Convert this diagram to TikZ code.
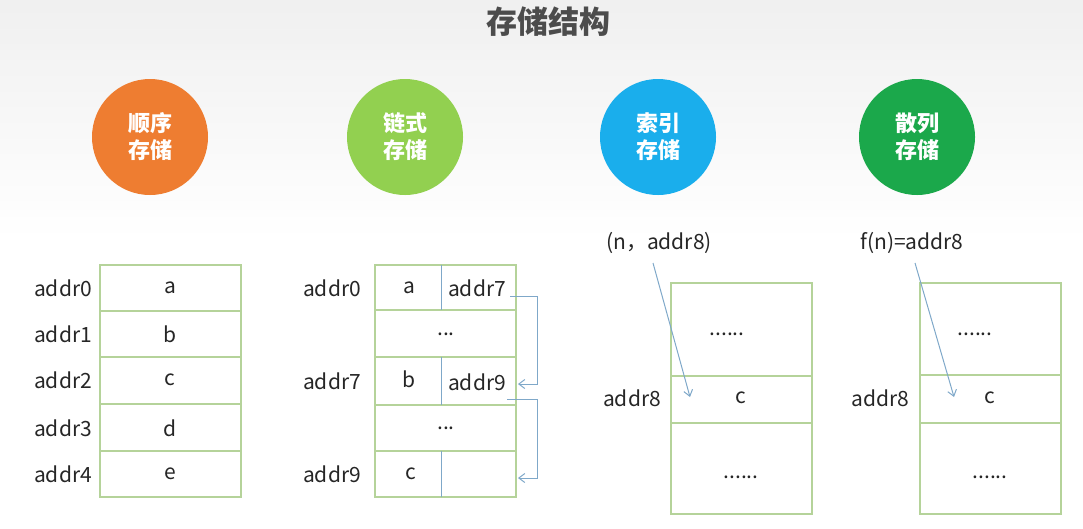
\documentclass[tikz,border=0pt]{standalone}
\usepackage{fontspec}
\setmainfont{Noto Sans CJK SC}
\usetikzlibrary{arrows.meta}
\definecolor{cellline}{HTML}{B5D39A}
\definecolor{ptrline}{HTML}{7FA8C9}
\definecolor{seqc}{HTML}{EE7D31}
\definecolor{linkc}{HTML}{92D050}
\definecolor{idxc}{HTML}{1AAEEC}
\definecolor{hashc}{HTML}{1BA84B}

\begin{document}
\begin{tikzpicture}[x=1pt,y=-1pt]
    \tikzstyle{kind}=[circle,minimum size=116pt,inner sep=0pt,text=white,font=\fontsize{22}{27}\selectfont\bfseries,align=center]
    \tikzstyle{cell}=[draw=cellline,line width=1.2pt]
    \tikzstyle{addr}=[font=\fontsize{21}{24}\selectfont,text=black!85]
    \tikzstyle{val}=[font=\fontsize{21}{24}\selectfont,text=black!85]
    \tikzstyle{ptr}=[draw=ptrline,line width=1pt,-{Straight Barb[length=6pt,width=9pt]}]

    \useasboundingbox (0,0) rectangle (1083,528);
    \shade[top color=black!6,bottom color=white] (0,0) rectangle (1083,240);

    % Title
    \node[font=\fontsize{31}{36}\selectfont\bfseries,text=black!70] (title) at (548,22) {存储结构};

    % The four kinds of storage
    \node[kind,fill=seqc]  (seq)  at (150,137) {顺序\\存储};
    \node[kind,fill=linkc] (link) at (405,137) {链式\\存储};
    \node[kind,fill=idxc]  (idx)  at (658,137) {索引\\存储};
    \node[kind,fill=hashc] (hash) at (917,137) {散列\\存储};

    % Sequential storage
    \draw[cell] (100,265) rectangle (241,497);
    \foreach \y in {311,357,404,451}
        \draw[cell] (100,\y) -- (241,\y);
    \foreach \name/\y [count=\i from 0] in {a/288,b/334,c/380,d/428,e/474} {
        \node[addr] (sa-\i) at (63,\y) {addr\i};
        \node[val]  (sv-\i) at (170,\y) {\name};
    }

    % Linked storage
    \draw[cell] (375,265) rectangle (516,497);
    \foreach \y in {310,357,405,451}
        \draw[cell] (375,\y) -- (516,\y);
    \foreach \y/\z in {265/310,357/405,451/497}
        \draw[draw=ptrline,line width=1pt] (441,\y) -- (441,\z);
    \node[addr] (la-0) at (332,288) {addr0};
    \node[addr] (la-7) at (332,381) {addr7};
    \node[addr] (la-9) at (332,474) {addr9};
    \node[val] (lv-a) at (409,288) {a};
    \node[val] (lp-a) at (477,288) {addr7};
    \node[val] (ld-1) at (446,334) {...};
    \node[val] (lv-b) at (409,379) {b};
    \node[val] (lp-b) at (477,382) {addr9};
    \node[val] (ld-2) at (446,428) {...};
    \node[val] (lv-c) at (411,474) {c};
    \coordinate (lq-c) at (518,478);
    \coordinate (lq-b) at (518,384);
    \draw[ptr] (510,296) -- (537,296) -- (537,384) -- (lq-b);
    \draw[ptr] (507,399) -- (537,399) -- (537,478) -- (lq-c);

    % Index storage
    \draw[cell] (671,283) rectangle (812,514);
    \foreach \y in {376,423}
        \draw[cell] (671,\y) -- (812,\y);
    \node[addr] (ik) at (659,243) {(n，addr8)};
    \node[addr] (ia) at (632,398) {addr8};
    \node[val] (id-1) at (727,334) {......};
    \node[val] (iv) at (741,398) {c};
    \node[val] (id-2) at (741,477) {......};
    \coordinate (it) at (690,397);
    \draw[ptr] (653,263) -- (it);

    % Hash storage
    \draw[cell] (920,283) rectangle (1061,514);
    \foreach \y in {375,423}
        \draw[cell] (920,\y) -- (1061,\y);
    \node[addr] (hk) at (912,243) {f(n)=addr8};
    \node[addr] (ha) at (880,398) {addr8};
    \node[val] (hd-1) at (975,334) {......};
    \node[val] (hv) at (990,398) {c};
    \node[val] (hd-2) at (990,477) {......};
    \coordinate (ht) at (954,397);
    \draw[ptr] (915,263) -- (ht);
\end{tikzpicture}
\end{document}
